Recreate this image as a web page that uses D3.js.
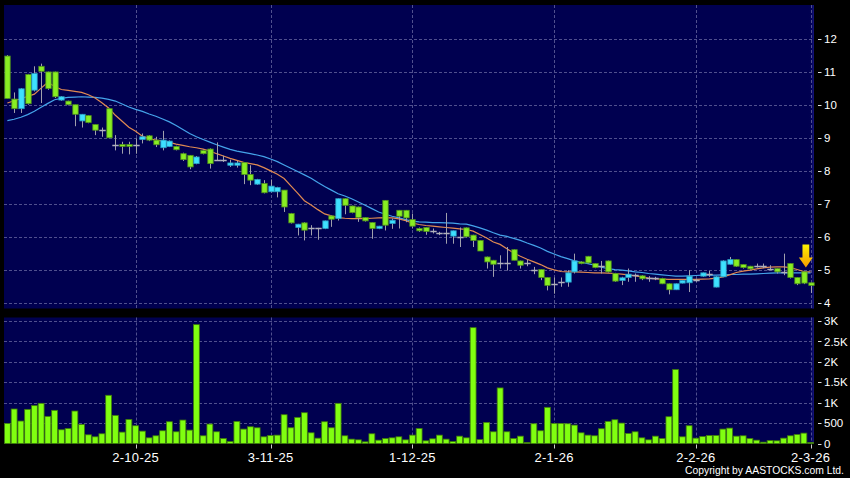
<!DOCTYPE html>
<html lang="en">
<head>
<meta charset="utf-8">
<title>Candlestick Chart</title>
<script src="https://d3js.org/d3.v7.min.js"></script>
<style>
  body { margin: 0; background: #000; }
  svg text { font-family: "Liberation Sans", Arial, sans-serif; fill: #fff; }
</style>
</head>
<body>
<div id="chart"></div>
<script>
// daily OHLC, oldest first
const open = [11.47,10.17,9.88,10.91,10.44,11.16,10.99,10.99,10.14,10.11,
  10.0,9.51,9.67,9.4,9.25,9.88,8.77,8.8,8.8,8.79,
  8.95,9.06,8.93,8.70,8.74,8.74,8.52,8.47,8.22,8.62,
  8.66,8.34,8.34,8.17,8.17,8.25,7.89,7.6,7.62,7.37,
  7.37,7.42,6.71,6.29,6.43,6.26,6.26,6.26,6.64,6.56,
  7.16,6.94,6.91,6.59,6.44,6.26,7.11,6.41,6.81,6.81,
  6.53,6.26,6.29,6.19,6.11,6.11,6.03,6.01,6.28,6.06,
  5.9,5.4,5.3,5.22,5.22,5.62,5.28,5.22,5.0,5.02,
  4.78,4.57,4.64,4.64,4.95,5.25,5.42,5.2,5.13,5.28,
  4.9,4.69,4.78,4.85,4.83,4.75,4.75,4.75,4.59,4.41,
  4.61,4.62,4.69,4.82,4.9,4.49,4.8,5.18,5.32,5.17,
  5.12,5.13,5.13,5.05,5.05,4.95,5.2,4.78,4.95,4.62];
const high = [11.5,10.37,10.5,10.93,11.16,11.24,11.0,11.0,10.26,10.12,
  10.0,9.72,9.68,9.4,9.31,9.88,9.08,8.88,8.88,8.98,
  9.13,9.08,9.03,9.21,8.92,8.76,8.55,8.48,8.45,8.64,
  8.68,8.86,8.46,8.34,8.3,8.27,8.17,7.76,7.72,7.74,
  7.52,7.42,6.73,6.4,6.45,6.36,6.28,6.5,6.66,7.17,
  7.17,6.95,6.92,6.6,6.45,6.34,7.12,6.56,6.82,6.82,
  6.71,6.29,6.3,6.26,6.16,6.73,6.2,6.29,6.29,6.07,
  5.91,5.41,5.31,5.45,5.7,5.63,5.29,5.32,5.1,5.03,
  4.79,4.78,4.78,5.0,5.5,5.27,5.43,5.21,5.28,5.29,
  4.92,4.8,5.05,4.9,4.85,4.82,4.8,4.77,4.6,4.6,
  4.7,5.0,4.75,4.93,4.98,4.82,5.3,5.4,5.33,5.18,
  5.13,5.2,5.2,5.15,5.06,5.5,5.21,4.79,4.96,4.63];
const low = [10.19,9.75,9.75,10.0,10.40,10.05,10.45,10.2,10.12,9.98,
  9.35,9.31,9.44,9.08,9.03,9.0,8.62,8.52,8.5,8.52,
  8.83,8.9,8.72,8.62,8.72,8.62,8.3,8.05,8.2,8.5,
  8.07,8.3,8.27,8.12,8.1,7.6,7.57,7.58,7.32,7.35,
  7.2,6.76,6.41,6.05,5.9,6.05,5.92,6.24,6.31,6.5,
  6.69,6.72,6.46,6.47,5.95,6.24,6.2,6.25,6.26,6.45,
  6.26,6.16,6.07,6.11,6.06,5.8,5.8,5.7,5.99,5.7,
  5.58,5.05,4.8,5.05,4.99,5.3,5.05,5.12,4.88,4.7,
  4.39,4.29,4.5,4.5,4.9,5.18,5.2,5.06,4.9,4.93,
  4.65,4.55,4.65,4.65,4.7,4.65,4.7,4.58,4.27,4.4,
  4.6,4.34,4.65,4.8,4.8,4.48,4.79,5.17,5.1,5.05,
  5.02,5.08,5.06,5.0,4.9,4.85,4.75,4.55,4.58,4.31];
const close = [10.19,9.88,10.48,10.03,10.94,11.01,10.49,10.24,10.24,10.0,
  9.71,9.71,9.46,9.23,9.25,9.0,8.77,8.74,8.74,8.79,
  9.03,8.93,8.79,8.93,8.9,8.64,8.34,8.12,8.42,8.52,
  8.22,8.34,8.34,8.24,8.24,7.89,7.72,7.74,7.34,7.54,
  7.5,6.91,6.43,6.39,6.21,6.26,6.26,6.49,6.54,7.16,
  6.96,6.74,6.59,6.49,6.26,6.33,6.36,6.51,6.63,6.58,
  6.33,6.19,6.17,6.19,6.11,6.11,6.19,6.01,6.01,5.9,
  5.58,5.25,5.18,5.22,5.22,5.3,5.15,5.22,5.0,4.78,
  4.54,4.57,4.64,4.92,5.28,5.2,5.22,5.08,5.13,4.95,
  4.67,4.77,4.88,4.85,4.74,4.75,4.75,4.59,4.41,4.59,
  4.69,4.82,4.69,4.92,4.9,4.8,5.28,5.32,5.12,5.08,
  5.04,5.13,5.13,5.05,4.95,4.95,4.78,4.59,4.61,4.54];
const volume = [492,845,550,836,927,984,664,812,336,369,
  795,467,213,164,238,1181,689,279,590,435,
  303,139,189,312,533,287,574,328,2911,189,
  476,287,123,49,541,353,410,385,164,197,
  205,705,385,640,754,262,131,533,385,984,
  189,107,90,41,238,82,123,139,164,90,
  205,369,66,115,205,107,49,180,139,2837,
  98,517,287,1361,287,123,180,25,484,312,
  886,492,492,484,451,262,205,189,361,541,
  582,500,246,287,139,90,180,123,656,1812,
  164,435,131,172,197,197,353,377,180,189,
  123,82,33,74,66,131,189,221,254,25];
// moving averages
const ma10 = [10.05,10.12,10.18,10.25,10.32,10.5,10.68,10.55,10.46,10.43,
  10.4,10.37,10.3,10.2,10.06,9.9,9.68,9.5,9.32,9.2,
  9.05,8.98,8.93,8.9,8.86,8.81,8.77,8.73,8.7,8.66,
  8.6,8.52,8.45,8.38,8.32,8.26,8.22,8.18,8.1,8.0,
  7.9,7.77,7.55,7.33,7.1,6.97,6.83,6.7,6.64,6.59,
  6.57,6.56,6.56,6.56,6.57,6.58,6.59,6.58,6.55,6.5,
  6.42,6.38,6.35,6.33,6.31,6.29,6.27,6.25,6.23,6.18,
  6.08,5.97,5.85,5.78,5.65,5.52,5.42,5.33,5.25,5.17,
  5.07,5.01,4.96,4.95,4.95,4.94,4.93,4.92,4.92,4.91,
  4.9,4.88,4.86,4.83,4.8,4.76,4.74,4.73,4.72,4.72,
  4.72,4.72,4.72,4.73,4.74,4.76,4.8,4.86,4.93,4.97,
  5.0,5.04,5.07,5.09,5.1,5.1,5.08,5.02,4.96,4.95];
const ma20 = [9.52,9.56,9.62,9.7,9.8,9.92,10.04,10.15,10.19,10.22,
  10.23,10.24,10.23,10.22,10.2,10.16,10.11,10.02,9.93,9.86,
  9.8,9.72,9.65,9.57,9.48,9.37,9.25,9.13,9.03,8.95,
  8.87,8.79,8.72,8.65,8.6,8.56,8.52,8.48,8.43,8.36,
  8.28,8.18,8.08,7.98,7.88,7.78,7.65,7.53,7.42,7.31,
  7.24,7.16,7.06,6.96,6.86,6.76,6.69,6.63,6.58,6.53,
  6.48,6.46,6.45,6.44,6.44,6.43,6.42,6.4,6.39,6.34,
  6.28,6.21,6.13,6.06,6.02,5.96,5.9,5.82,5.75,5.67,
  5.57,5.49,5.41,5.35,5.28,5.24,5.2,5.15,5.09,5.05,
  5.02,5.0,4.98,4.95,4.93,4.9,4.88,4.86,4.84,4.82,
  4.82,4.83,4.84,4.85,4.85,4.85,4.86,4.87,4.87,4.88,
  4.88,4.89,4.9,4.91,4.92,4.92,4.92,4.92,4.92,4.92];

const dateTickIdx = [19, 39, 60, 81, 102, 119];
const dateTickLabels = ["2-10-25", "3-11-25", "1-12-25", "2-1-26", "2-2-26", "2-3-26"];
const priceTicks = [4, 5, 6, 7, 8, 9, 10, 11, 12];
const volTicks = [0, 500, 1000, 1500, 2000, 2500, 3000];
const volTickLabels = ["0", "500", "1K", "1.5K", "2K", "2.5K", "3K"];
const markIdx = 118; // candle with the arrow

const W = 850, H = 478;
const left = 4, right = 814;
const priceTop = 5, priceBottom = 308.5;
const volTop = 317.5, volBottom = 443.5;

const svg = d3.select("#chart").append("svg")
    .attr("width", W).attr("height", H)
    .style("display", "block")
    .style("background", "#000");

const defs = svg.append("defs");
const edge = defs.append("linearGradient").attr("id", "edge");
edge.append("stop").attr("offset", "0%").attr("stop-color", "#000050").attr("stop-opacity", 0);
edge.append("stop").attr("offset", "100%").attr("stop-color", "#15157c");
const arrowGrad = defs.append("linearGradient").attr("id", "arrowGrad")
    .attr("x1", 0).attr("y1", 0).attr("x2", 0).attr("y2", 1);
arrowGrad.append("stop").attr("offset", "0%").attr("stop-color", "#fff200");
arrowGrad.append("stop").attr("offset", "100%").attr("stop-color", "#f29a00");

const n = close.length;
const x = d3.scaleBand().domain(d3.range(n)).range([left, right]);
const step = x.step();
const cx = i => x(i) + step / 2;
const y = d3.scaleLinear().domain([4, 12]).range([303.3, 38.5]);
const yv = d3.scaleLinear().domain([0, 3000]).range([volBottom, 321]);

// panels
[[priceTop, priceBottom], [volTop, volBottom]].forEach(([t, b]) => {
    svg.append("rect").attr("x", left).attr("y", t)
        .attr("width", right - left).attr("height", b - t).attr("fill", "#000050");
    svg.append("rect").attr("x", right - 5).attr("y", t)
        .attr("width", 5).attr("height", b - t).attr("fill", "url(#edge)");
});

const gridColor = "#50508e";
// horizontal grid
svg.append("g").selectAll("line").data(priceTicks).join("line")
    .attr("x1", left).attr("x2", right)
    .attr("y1", d => Math.round(y(d)) + 0.5).attr("y2", d => Math.round(y(d)) + 0.5)
    .attr("stroke", gridColor).attr("stroke-dasharray", "3,2");
svg.append("g").selectAll("line").data(volTicks.slice(1)).join("line")
    .attr("x1", left).attr("x2", right)
    .attr("y1", d => Math.round(yv(d)) + 0.5).attr("y2", d => Math.round(yv(d)) + 0.5)
    .attr("stroke", gridColor).attr("stroke-dasharray", "3,2");
// vertical grid
[[priceTop, priceBottom], [volTop, volBottom]].forEach(([t, b]) => {
    svg.append("g").selectAll("line").data(dateTickIdx).join("line")
        .attr("x1", d => Math.round(cx(d)) + 0.5).attr("x2", d => Math.round(cx(d)) + 0.5)
        .attr("y1", t).attr("y2", b)
        .attr("stroke", gridColor).attr("stroke-dasharray", "3,2");
});

// moving averages
const maLine = arr => d3.line().x((d, i) => cx(i)).y(d => y(d))(arr);
svg.append("path").attr("d", maLine(ma20))
    .attr("fill", "none").attr("stroke", "#45a4ea").attr("stroke-width", 1.2);
svg.append("path").attr("d", maLine(ma10))
    .attr("fill", "none").attr("stroke", "#e08a52").attr("stroke-width", 1.2);

// candles
const bodyW = 5.4;
const candles = svg.append("g");
d3.range(n).forEach(i => {
    const g = candles.append("g");
    const xc = Math.round(cx(i)) + 0.5;
    g.append("line").attr("x1", xc).attr("x2", xc)
        .attr("y1", y(high[i])).attr("y2", y(low[i]))
        .attr("stroke", "#a0a0ac").attr("stroke-width", 1);
    const o = open[i], c = close[i];
    if (o === c) {
        g.append("line").attr("x1", xc - bodyW / 2 - 0.5).attr("x2", xc + bodyW / 2 + 0.5)
            .attr("y1", Math.round(y(c)) + 0.5).attr("y2", Math.round(y(c)) + 0.5)
            .attr("stroke", "#b0b0bc").attr("stroke-width", 1.5);
    } else {
        const up = c > o;
        const top = y(Math.max(o, c)), bot = y(Math.min(o, c));
        g.append("rect")
            .attr("x", xc - bodyW / 2).attr("y", top)
            .attr("width", bodyW).attr("height", Math.max(1.5, bot - top))
            .attr("fill", up ? "#3ee0ff" : "#88ee22")
            .attr("stroke", up ? "#2a9cc0" : "#4f8f1c").attr("stroke-width", 0.8);
    }
});

// volume bars
const volW = 5.9;
svg.append("g").selectAll("rect").data(volume).join("rect")
    .attr("x", (d, i) => cx(i) - volW / 2)
    .attr("y", d => yv(d))
    .attr("width", volW)
    .attr("height", d => volBottom - yv(d))
    .attr("fill", "#80ff10")
    .attr("stroke", "#3f7a0c").attr("stroke-width", 0.8);

// arrow above marked candle
const ax = cx(markIdx) + 2, tip = y(high[markIdx]) - 4;
svg.append("path")
    .attr("d", `M${ax - 3.4},${tip - 23} L${ax + 3.4},${tip - 23} L${ax + 3.4},${tip - 10} ` +
               `L${ax + 7},${tip - 10} L${ax},${tip} L${ax - 7},${tip - 10} L${ax - 3.4},${tip - 10} Z`)
    .attr("fill", "url(#arrowGrad)");

// right axes
const axisX = 818;
svg.append("g").selectAll("line").data(priceTicks).join("line")
    .attr("x1", axisX).attr("x2", axisX + 3.5)
    .attr("y1", d => Math.round(y(d)) + 0.5).attr("y2", d => Math.round(y(d)) + 0.5)
    .attr("stroke", "#ddd");
svg.append("g").selectAll("text").data(priceTicks).join("text")
    .attr("x", axisX + 6).attr("y", d => y(d)).attr("dy", "0.36em")
    .style("font-size", "11.5px").text(d => d);
svg.append("g").selectAll("line").data(volTicks).join("line")
    .attr("x1", axisX).attr("x2", axisX + 3.5)
    .attr("y1", d => Math.round(yv(d)) + 0.5).attr("y2", d => Math.round(yv(d)) + 0.5)
    .attr("stroke", "#ddd");
svg.append("g").selectAll("text").data(volTicks).join("text")
    .attr("x", axisX + 6).attr("y", d => yv(d)).attr("dy", "0.36em")
    .style("font-size", "11.5px").text((d, i) => volTickLabels[i]);

// date axis
svg.append("g").selectAll("line").data(dateTickIdx).join("line")
    .attr("x1", d => Math.round(cx(d)) + 0.5).attr("x2", d => Math.round(cx(d)) + 0.5)
    .attr("y1", volBottom + 1).attr("y2", volBottom + 5)
    .attr("stroke", "#ccc");
svg.append("g").selectAll("text").data(dateTickIdx).join("text")
    .attr("x", d => cx(d)).attr("y", 461.5)
    .attr("text-anchor", "middle")
    .style("font-size", "13px").style("letter-spacing", "0.3px")
    .text((d, i) => dateTickLabels[i]);

svg.append("text")
    .attr("x", 844).attr("y", 473.5).attr("text-anchor", "end")
    .attr("textLength", 159).attr("lengthAdjust", "spacingAndGlyphs")
    .style("font-size", "11.5px")
    .text("Copyright by AASTOCKS.com Ltd.");
</script>
</body>
</html>
